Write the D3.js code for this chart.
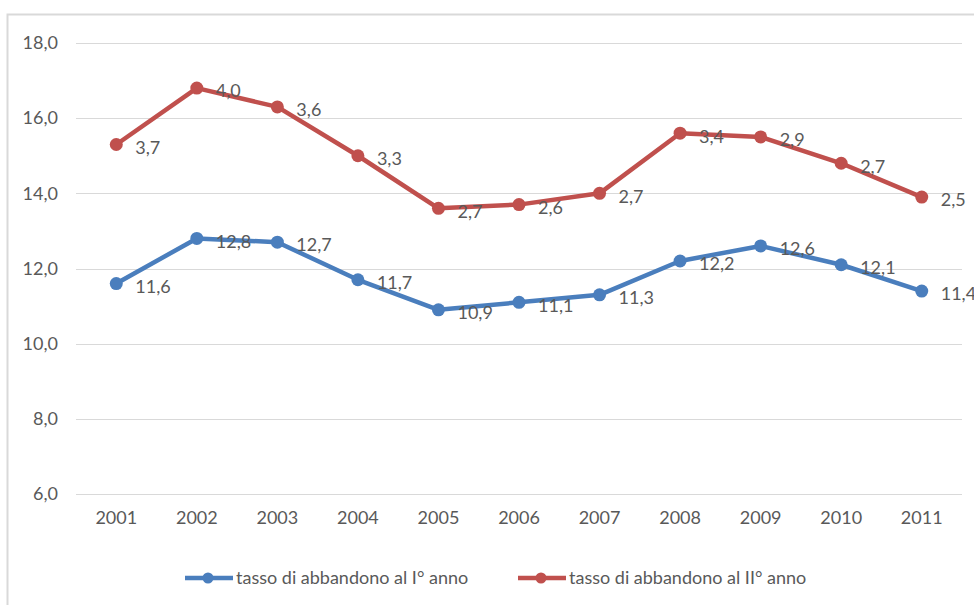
<!DOCTYPE html>
<html>
<head>
<meta charset="utf-8">
<script src="https://cdn.jsdelivr.net/npm/d3@7"></script>
<style>
  html, body { margin: 0; padding: 0; background: #fff; }
  svg { display: block; font-family: Lato, "Open Sans", sans-serif; }
</style>
</head>
<body>
<svg id="chart" width="974" height="605"></svg>
<script>
// Anni accademici
const years = ["2001", "2002", "2003", "2004", "2005", "2006", "2007", "2008", "2009", "2010", "2011"];
// Tasso di abbandono al I° anno (%)
const firstYear = [11.6, 12.8, 12.7, 11.7, 10.9, 11.1, 11.3, 12.2, 12.6, 12.1, 11.4];
// Tasso di abbandono al II° anno (%), sommato al I° nel grafico
const secondYear = [3.7, 4.0, 3.6, 3.3, 2.7, 2.6, 2.7, 3.4, 2.9, 2.7, 2.5];
const yTicks = [6, 8, 10, 12, 14, 16, 18];
const seriesNames = ["tasso di abbandono al I° anno", "tasso di abbandono al II° anno"];

const blue = "#4a7ebd";
const red = "#c0504d";
const textColor = "#595959";
const fontSize = "18px";
const fmt = v => d3.format(".1f")(v).replace(".", ",");

const svg = d3.select("#chart");

// Cornice del grafico
svg.append("path")
  .attr("d", "M7.5,605 V14.5 H974")
  .attr("fill", "none")
  .attr("stroke", "#d9d9d9")
  .attr("stroke-width", 2);

const plot = { left: 76, right: 962, top: 43, bottom: 494 };

const x = d3.scaleBand().domain(years).range([plot.left, plot.right]);
const y = d3.scaleLinear().domain([6, 18]).range([plot.bottom, plot.top]);

// Griglia orizzontale
svg.append("g")
  .selectAll("line")
  .data(yTicks)
  .join("line")
  .attr("x1", plot.left).attr("x2", plot.right)
  .attr("y1", d => Math.round(y(d)) + 0.5).attr("y2", d => Math.round(y(d)) + 0.5)
  .attr("stroke", "#d9d9d9").attr("stroke-width", 1.2);

// Asse Y
const yAxis = svg.append("g")
  .attr("transform", `translate(${plot.left - 18},0)`)
  .call(d3.axisLeft(y).tickValues(yTicks).tickFormat(fmt).tickSize(0).tickPadding(0));
yAxis.select(".domain").remove();
yAxis.selectAll("text")
  .attr("fill", textColor)
  .style("font-size", fontSize)
  .style("font-family", "Lato, sans-serif");

// Asse X
const xAxis = svg.append("g")
  .attr("transform", `translate(0,${plot.bottom + 17})`)
  .call(d3.axisBottom(x).tickSize(0).tickPadding(0));
xAxis.select(".domain").remove();
xAxis.selectAll("text")
  .attr("fill", textColor)
  .attr("dy", "0.71em")
  .style("font-size", fontSize)
  .style("font-family", "Lato, sans-serif");

// Serie: la seconda è cumulata sulla prima
const series = [
  { name: seriesNames[0], color: blue,
    pts: years.map((yr, i) => ({ yr, v: firstYear[i], label: firstYear[i] })) },
  { name: seriesNames[1], color: red,
    pts: years.map((yr, i) => ({ yr, v: firstYear[i] + secondYear[i], label: secondYear[i] })) }
];

const line = d3.line()
  .x(d => x(d.yr) + x.bandwidth() / 2)
  .y(d => y(d.v));

series.forEach(s => {
  const g = svg.append("g");
  g.append("path")
    .datum(s.pts)
    .attr("d", line)
    .attr("fill", "none")
    .attr("stroke", s.color)
    .attr("stroke-width", 4.5)
    .attr("stroke-linejoin", "round");
  g.selectAll("circle")
    .data(s.pts)
    .join("circle")
    .attr("cx", d => x(d.yr) + x.bandwidth() / 2)
    .attr("cy", d => y(d.v))
    .attr("r", 6.5)
    .attr("fill", s.color);
  g.selectAll("text")
    .data(s.pts)
    .join("text")
    .attr("x", d => x(d.yr) + x.bandwidth() / 2 + 19)
    .attr("y", d => y(d.v) + 3)
    .attr("dy", "0.35em")
    .attr("fill", textColor)
    .style("font-size", fontSize)
    .text(d => fmt(d.label));
});

// Legenda
const legendItems = [
  { name: seriesNames[0], color: blue, x0: 185 },
  { name: seriesNames[1], color: red, x0: 518 }
];
const legend = svg.append("g").attr("transform", "translate(0,578)");
legendItems.forEach(it => {
  legend.append("line")
    .attr("x1", it.x0).attr("x2", it.x0 + 48)
    .attr("y1", 0).attr("y2", 0)
    .attr("stroke", it.color).attr("stroke-width", 4.5);
  legend.append("circle")
    .attr("cx", it.x0 + 23).attr("cy", 0).attr("r", 5.5)
    .attr("fill", it.color);
  legend.append("text")
    .attr("x", it.x0 + 51).attr("y", 0)
    .attr("dy", "0.35em")
    .attr("fill", textColor)
    .style("font-size", fontSize)
    .text(it.name);
});
</script>
</body>
</html>
